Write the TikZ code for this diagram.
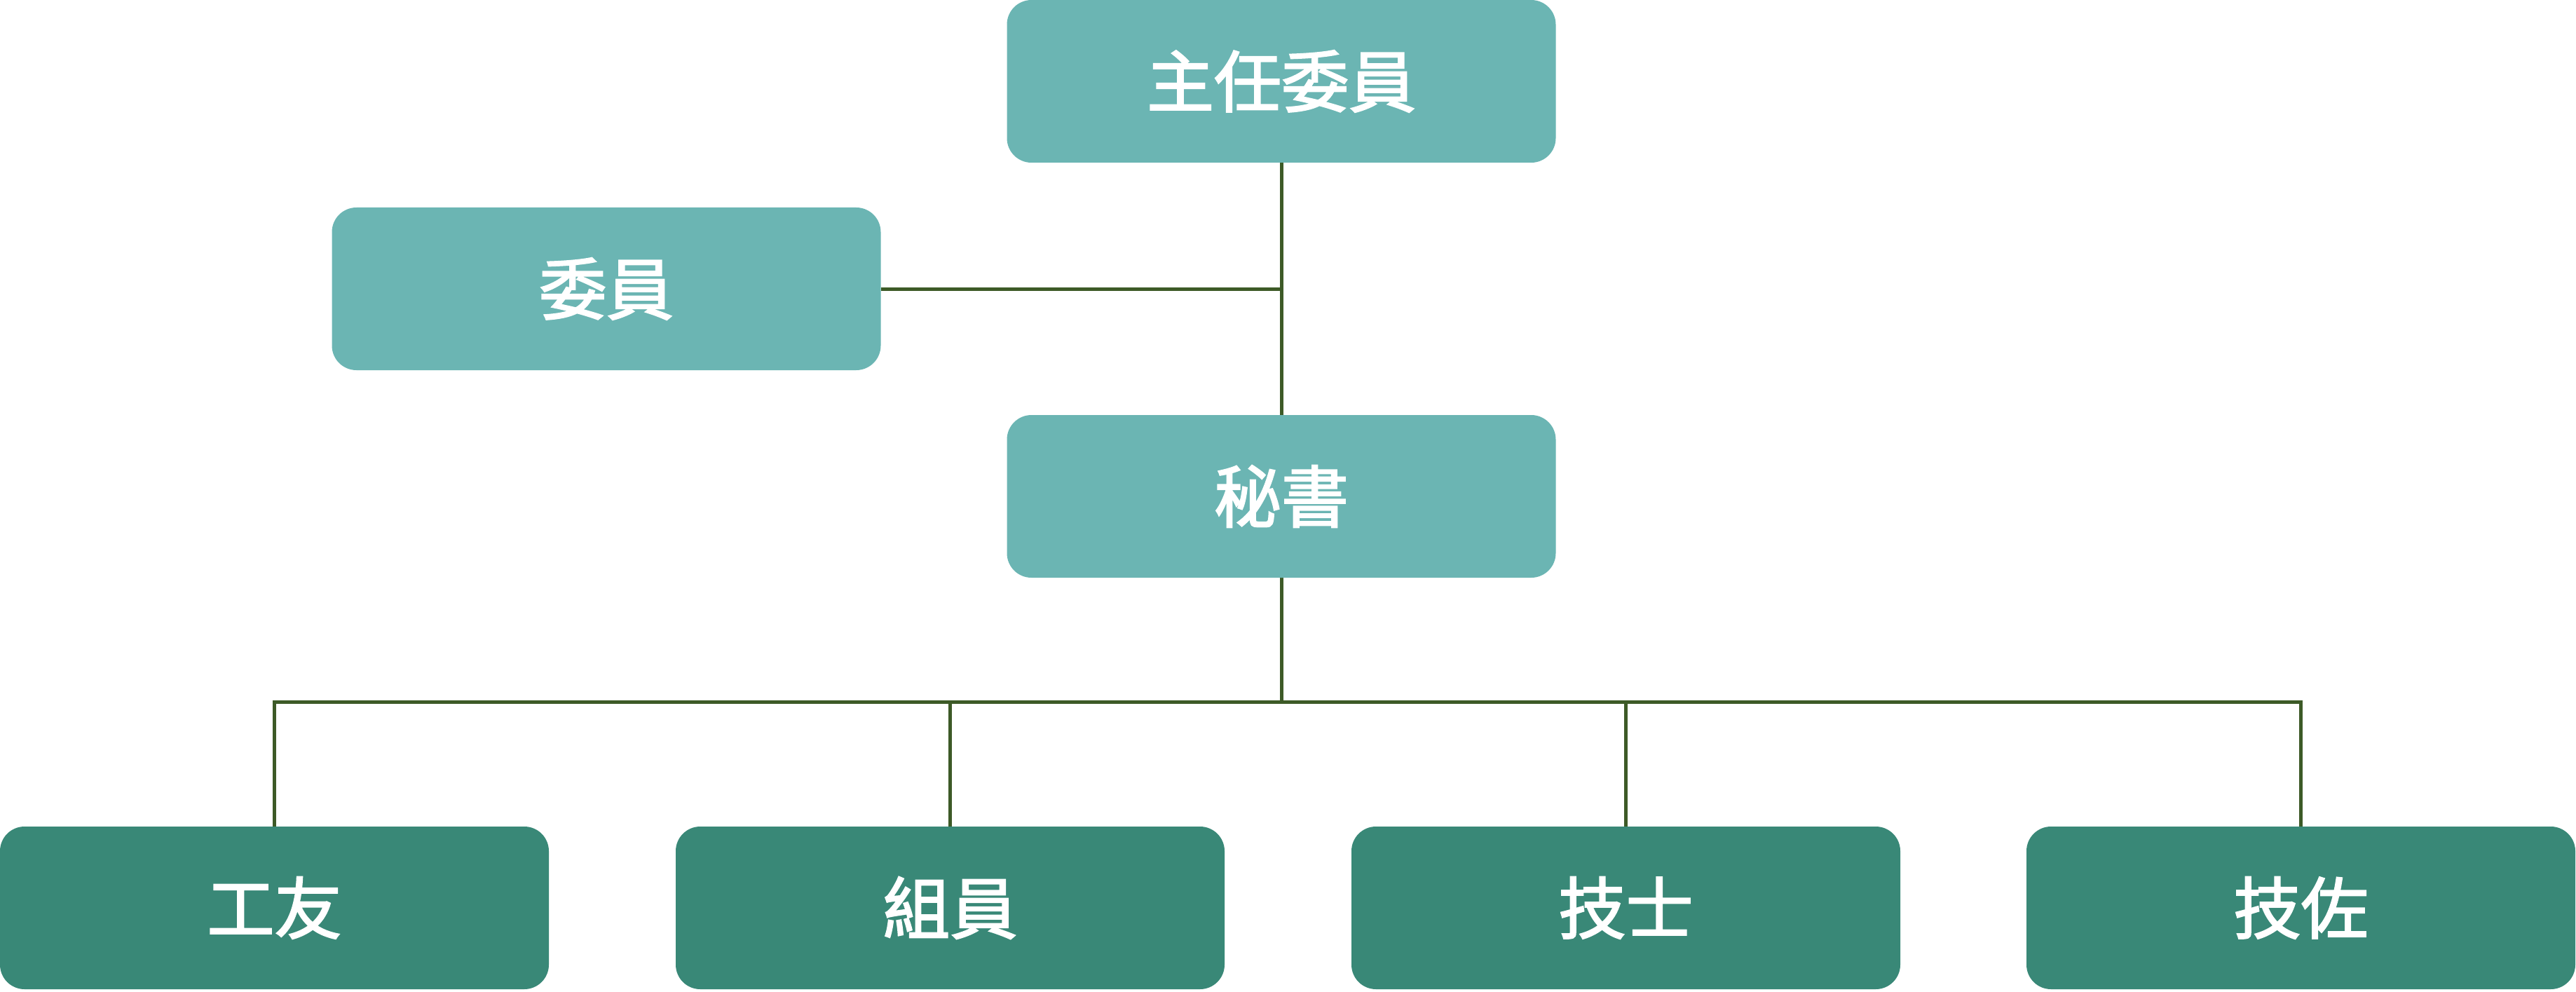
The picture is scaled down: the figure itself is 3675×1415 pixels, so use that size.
\documentclass[tikz,border=0pt]{standalone}
\usepackage{fontspec}
\newfontfamily\cjk[FakeBold=2.2]{Noto Sans CJK TC}
\usetikzlibrary{backgrounds}
\definecolor{lightteal}{HTML}{6BB5B3}
\definecolor{darkteal}{HTML}{398877}
\definecolor{linegreen}{HTML}{3D5A27}
\tikzset{
  box/.style={rounded corners=35pt, minimum width=783pt, minimum height=232pt, inner sep=0pt,
    text=white, font=\cjk\fontsize{96}{110}\selectfont},
  upper/.style={box, fill=lightteal},
  lower/.style={box, fill=darkteal},
  link/.style={draw=linegreen, line width=5pt}
}
\begin{document}
\begin{tikzpicture}[x=1pt,y=-1pt]
\useasboundingbox (0,0) rectangle (3675,1415);
\node[upper] (top) at (1828,116) {主任委員};
\node[upper] (wy) at (865,412) {委員};
\node[upper] (ms) at (1828,708) {秘書};
\node[lower] (b1) at (391.5,1295) {工友};
\node[lower] (b2) at (1355.5,1295) {組員};
\node[lower] (b3) at (2319.5,1295) {技士};
\node[lower] (b4) at (3282.5,1295) {技佐};
\coordinate (bus) at (1828,1001);
\begin{scope}[on background layer]
\draw[link] (top) -- (ms);
\draw[link] (wy.east) -- (wy.east -| top);
\draw[link] (ms) -- (bus);
\draw[link] (b1.north) |- (bus) -| (b4.north);
\draw[link] (b2.north) -- (b2.north |- bus);
\draw[link] (b3.north) -- (b3.north |- bus);
\end{scope}
\end{tikzpicture}
\end{document}
